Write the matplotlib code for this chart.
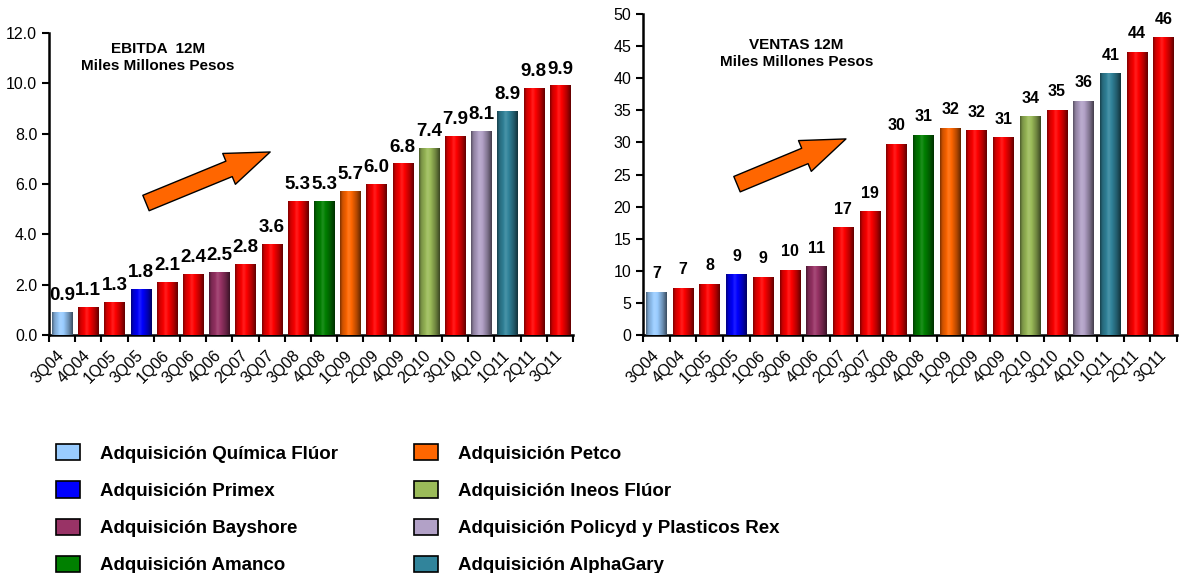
import numpy as np
import matplotlib.pyplot as plt
from matplotlib.patches import Patch, FancyArrowPatch
from matplotlib.colors import to_rgb

plt.rcParams['font.family'] = ['Liberation Sans', 'DejaVu Sans']

quarters = ['3Q04', '4Q04', '1Q05', '3Q05', '1Q06', '3Q06', '4Q06', '2Q07', '3Q07', '3Q08',
            '4Q08', '1Q09', '2Q09', '4Q09', '2Q10', '3Q10', '4Q10', '1Q11', '2Q11', '3Q11']
ebitda = [0.9, 1.1, 1.3, 1.8, 2.1, 2.4, 2.5, 2.8, 3.6, 5.3,
          5.3, 5.7, 6.0, 6.8, 7.4, 7.9, 8.1, 8.9, 9.8, 9.9]
ventas = [6.7, 7.3, 7.9, 9.4, 9.0, 10.1, 10.6, 16.7, 19.2, 29.7,
          31.1, 32.2, 31.8, 30.7, 34.0, 35.0, 36.4, 40.7, 44.0, 46.3]

# adquisiciones: trimestre, nombre, color
acq_quarters = ['3Q04', '3Q05', '4Q06', '4Q08', '1Q09', '2Q10', '4Q10', '1Q11']
acq_names = ['Adquisición Química Flúor', 'Adquisición Primex', 'Adquisición Bayshore',
             'Adquisición Amanco', 'Adquisición Petco', 'Adquisición Ineos Flúor',
             'Adquisición Policyd y Plasticos Rex', 'Adquisición AlphaGary']
acq_colors = ['#99CCFF', '#0000FF', '#993366', '#008000', '#FF6600', '#9BBB59',
              '#B2A1C7', '#31849B']
base_red = '#FF0000'

bar_colors = [acq_colors[acq_quarters.index(q)] if q in acq_quarters else base_red
              for q in quarters]


def shade(color, n=80):
    # degradado horizontal tipo cilindro
    x = np.linspace(0, 1, n)
    f = np.interp(x, [0, 0.12, 0.35, 0.55, 0.8, 1.0], [0.5, 0.8, 1.0, 1.0, 0.7, 0.38])
    hl = np.interp(x, [0, 0.3, 0.42, 0.55, 1], [0, 0, 0.12, 0, 0])
    c = np.array(to_rgb(color))[None, :] * f[:, None]
    c = c + (1 - c) * hl[:, None]
    return c[None, :, :]


def draw_panel(ax, values, fmt, fsize, pad):
    x = np.arange(len(quarters))
    bars = ax.bar(x, values, width=0.77, color=bar_colors, zorder=2)
    for b, col in zip(bars, bar_colors):
        x0, w, h = b.get_x(), b.get_width(), b.get_height()
        ax.imshow(shade(col), extent=(x0, x0 + w, 0, h), aspect='auto', zorder=3)
    ax.bar_label(bars, labels=[fmt % v for v in values], padding=pad,
                 fontsize=fsize, fontweight='bold', zorder=4)
    ax.set_xlim(-0.5, len(quarters) - 0.5)
    ax.set_xticks(np.arange(len(quarters) + 1) - 0.5)
    ax.set_xticklabels([])
    # etiquetas ligeramente a la derecha del centro de cada barra
    ax.set_xticks(x + 0.2, minor=True)
    ax.set_xticklabels(quarters, minor=True, rotation=45, ha='right', fontsize=11.5)
    ax.tick_params(axis='x', which='minor', length=0, pad=9)
    ax.tick_params(axis='x', which='major', length=5, width=1.5, direction='out')
    ax.tick_params(axis='y', length=5, width=1.5, direction='out', labelsize=11.5)
    for s in ['top', 'right']:
        ax.spines[s].set_visible(False)
    for s in ['left', 'bottom']:
        ax.spines[s].set_linewidth(1.8)


fig = plt.figure(figsize=(11.82, 5.73), dpi=100)

ax1 = fig.add_axes([0.0415, 0.4154, 0.4433, 0.527])
draw_panel(ax1, ebitda, '%.1f', 13.5, 6)
ax1.set_ylim(0, 12)
ax1.set_yticks(np.arange(0, 12.1, 2))
ax1.set_yticklabels(['%.1f' % v for v in np.arange(0, 12.1, 2)])
ax1.text(0.208, 0.97, 'EBITDA  12M\nMiles Millones Pesos', transform=ax1.transAxes,
         ha='center', va='top', fontsize=11, fontweight='bold', linespacing=1.25)
ax1.add_patch(FancyArrowPatch((0.185, 0.437), (0.422, 0.606), transform=ax1.transAxes,
                              arrowstyle='simple,head_length=1.6,head_width=1.2,tail_width=0.6',
                              mutation_scale=20, fc='#FF6600', ec='black', lw=1,
                              shrinkA=0, shrinkB=0, zorder=5))

ax2 = fig.add_axes([0.544, 0.4154, 0.4518, 0.560])
draw_panel(ax2, ventas, '%.0f', 11.5, 8)
ax2.set_ylim(0, 50)
ax2.set_yticks(np.arange(0, 51, 5))
ax2.text(0.287, 0.925, 'VENTAS 12M\nMiles Millones Pesos', transform=ax2.transAxes,
         ha='center', va='top', fontsize=11, fontweight='bold', linespacing=1.25)
ax2.add_patch(FancyArrowPatch((0.176, 0.470), (0.380, 0.611), transform=ax2.transAxes,
                              arrowstyle='simple,head_length=1.6,head_width=1.2,tail_width=0.6',
                              mutation_scale=20, fc='#FF6600', ec='black', lw=1,
                              shrinkA=0, shrinkB=0, zorder=5))

handles = [Patch(facecolor=c, edgecolor='black', lw=1.2) for c in acq_colors]
fig.legend(handles, acq_names, ncol=2, loc='upper left', bbox_to_anchor=(0.047, 0.225),
           frameon=False, prop={'weight': 'bold', 'size': 13.5}, handlelength=1.3,
           handleheight=0.95, handletextpad=1.05, labelspacing=1.0, columnspacing=4.05,
           borderpad=0, borderaxespad=0)

fig.savefig('out.png', dpi=100)
